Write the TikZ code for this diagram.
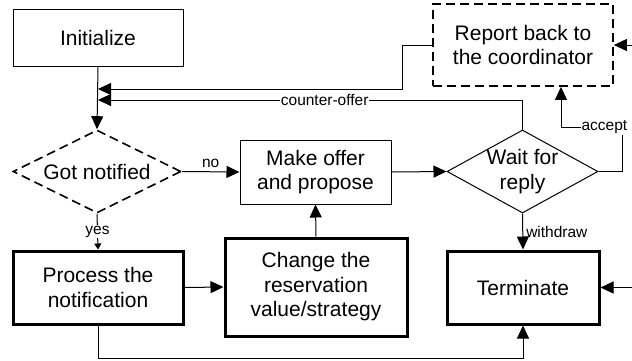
\documentclass[tikz,border=0pt]{standalone}
\usepackage{fontspec}
\setmainfont{Liberation Sans}
\usetikzlibrary{arrows.meta,shapes.geometric}
\begin{document}
\begin{tikzpicture}[x=1pt,y=-1pt,
  box/.style={draw, line width=1pt, rectangle, inner sep=0pt, align=center, font=\fontsize{21}{24.5}\selectfont},
  thickbox/.style={box, line width=3pt},
  dbox/.style={box, line width=1.8pt, dash pattern=on 9pt off 5pt},
  dia/.style={draw, diamond, inner sep=0pt, line width=1pt},
  lbl/.style={font=\fontsize{15.5}{18}\selectfont, inner sep=1pt},
  conn/.style={line width=1pt},
  arr/.style={conn, -{Triangle[length=13pt,width=12pt]}},
  sarr/.style={conn, -{Triangle[length=6pt,width=7pt]}},
  big/.style={font=\fontsize{21}{24.5}\selectfont, align=center}
]
\useasboundingbox (0,0) rectangle (632,360);

\node[box, minimum width=170pt, minimum height=57pt] (init) at (98,37.5) {Initialize};
\node[dbox, minimum width=180pt, minimum height=82pt] (report) at (523,45) {Report back to\\the coordinator};
\node[dia, line width=1.6pt, dash pattern=on 9pt off 5pt, minimum width=168pt, minimum height=83pt] (got) at (97,171.5) {};
\node[big] (gottxt) at (got.center) {Got notified};
\node[box, minimum width=151pt, minimum height=64pt] (make) at (315.5,172) {Make offer\\and propose};
\node[dia, minimum width=151pt, minimum height=83pt] (wait) at (522.5,171.5) {};
\node[big] (waittxt) at (wait.center) {Wait for\\reply};
\node[thickbox, minimum width=170pt, minimum height=73pt] (proc) at (98,287.5) {Process the\\notification};
\node[thickbox, minimum width=182pt, minimum height=98pt] (change) at (316,287) {Change the\\reservation\\value/strategy};
\node[thickbox, minimum width=152pt, minimum height=73pt] (term) at (523,287.5) {Terminate};

\coordinate (j1) at (98,89);
\coordinate (j2) at (98,100);
\coordinate (r1) at (632,45);
\coordinate (r2) at (632,287.5);

\draw[arr] (init.south) -- (got.north);
\draw[arr] (report.west) -- ++(-30,0) |- (j1);
\draw[arr] (wait.north) |- (j2) node[lbl, pos=0.733, fill=white] {counter-offer};
\draw[arr] (got.east) -- (make.west) node[lbl, midway, above=3pt] {no};
\draw[sarr] (got.south) -- (proc.north) node[lbl, midway, fill=white] {yes};
\draw[arr] (proc.east) -- (change.west);
\draw[arr] (change.north) -- (make.south);
\draw[arr] (make.east) -- (wait.west);
\draw[arr] (wait.east) -- ++(24,0) -- ++(0,-44) -| ([xshift=38pt]report.south) node[lbl, pos=0.1475, fill=white] {accept};
\draw[arr] (wait.south) -- (term.north) node[lbl, midway, right=2pt] {withdraw};
\draw[arr] (proc.south) -- ++(0,33) -| (term.south);
\draw[arr] (r1) -- (report.east);
\draw[arr] (r2) -- (term.east);
\end{tikzpicture}
\end{document}
